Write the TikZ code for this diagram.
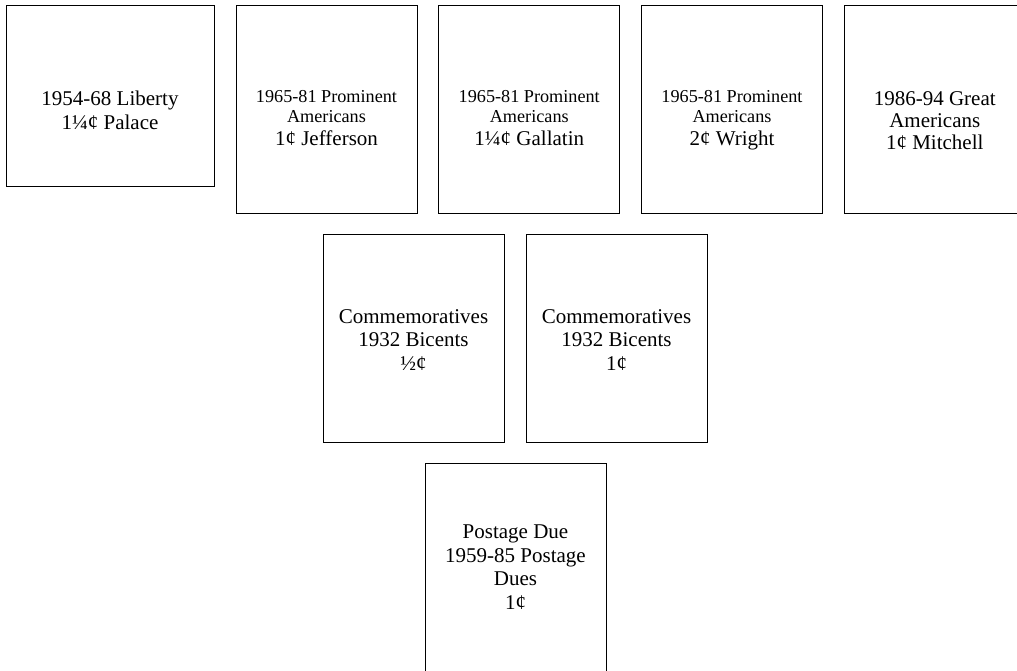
\documentclass[tikz,border=0pt]{standalone}
\usepackage{fontspec}
\setmainfont{Liberation Serif}
\usetikzlibrary{positioning}

\newcommand{\bigtext}{\fontsize{21}{23.5}\selectfont}
\newcommand{\smalltext}{\fontsize{18.2}{20}\selectfont}

\begin{document}
\begin{tikzpicture}[
        x=1pt, y=1pt,
        node distance=21.75pt,
        every node/.style={font=\bigtext},
        stamp/.style={
            rectangle,
            draw,
            line width=0.8pt,
            inner sep=0pt,
            outer sep=0pt,
            minimum width=181pt,
            minimum height=208pt
        },
        wide/.style={
            stamp,
            minimum width=208pt,
            minimum height=181pt
        },
        caption/.style={
            align=center,
            inner sep=0pt
        }
    ]

    \useasboundingbox (0,0) rectangle (1017,-671);

    % Top row
    \node[wide, anchor=north west] (liberty) at (6,-5) {};

    \node[stamp, below right=0pt and 22pt of liberty.north east] (jefferson) {};

    \node[stamp, right=of jefferson] (gallatin) {};

    \node[stamp, right=of gallatin] (wright) {};

    \node[stamp, right=of wright] (mitchell) {};

    % Middle row
    \node[stamp, anchor=north west] (halfcent) at (323,-234) {};

    \node[stamp, right=22pt of halfcent] (onecent) {};

    % Bottom row
    \node[stamp, anchor=north west, minimum height=212pt] (postagedue) at (425,-463) {};

    % Captions
    \node[caption, below=86pt of liberty.north] (libertytext)
        {1954-68 Liberty\\
         1¼¢ Palace};

    \node[caption, below=85pt of jefferson.north] (jeffersontext)
        {{\smalltext 1965-81 Prominent}\\[-3.5pt]
         {\smalltext Americans}\\
         1¢ Jefferson};

    \node[caption, below=85pt of gallatin.north] (gallatintext)
        {{\smalltext 1965-81 Prominent}\\[-3.5pt]
         {\smalltext Americans}\\
         1¼¢ Gallatin};

    \node[caption, below=85pt of wright.north] (wrighttext)
        {{\smalltext 1965-81 Prominent}\\[-3.5pt]
         {\smalltext Americans}\\
         2¢ Wright};

    \node[caption, below=86pt of mitchell.north] (mitchelltext)
        {1986-94 Great\\[-1.5pt]
         Americans\\[-1.5pt]
         1¢ Mitchell};

    \node[caption, below=75pt of halfcent.north] (halfcenttext)
        {Commemoratives\\
         1932 Bicents\\
         ½¢};

    \node[caption, below=75pt of onecent.north] (onecenttext)
        {Commemoratives\\
         1932 Bicents\\
         1¢};

    \node[caption, below=62pt of postagedue.north] (postageduetext)
        {Postage Due\\
         1959-85 Postage\\
         Dues\\
         1¢};

\end{tikzpicture}
\end{document}
